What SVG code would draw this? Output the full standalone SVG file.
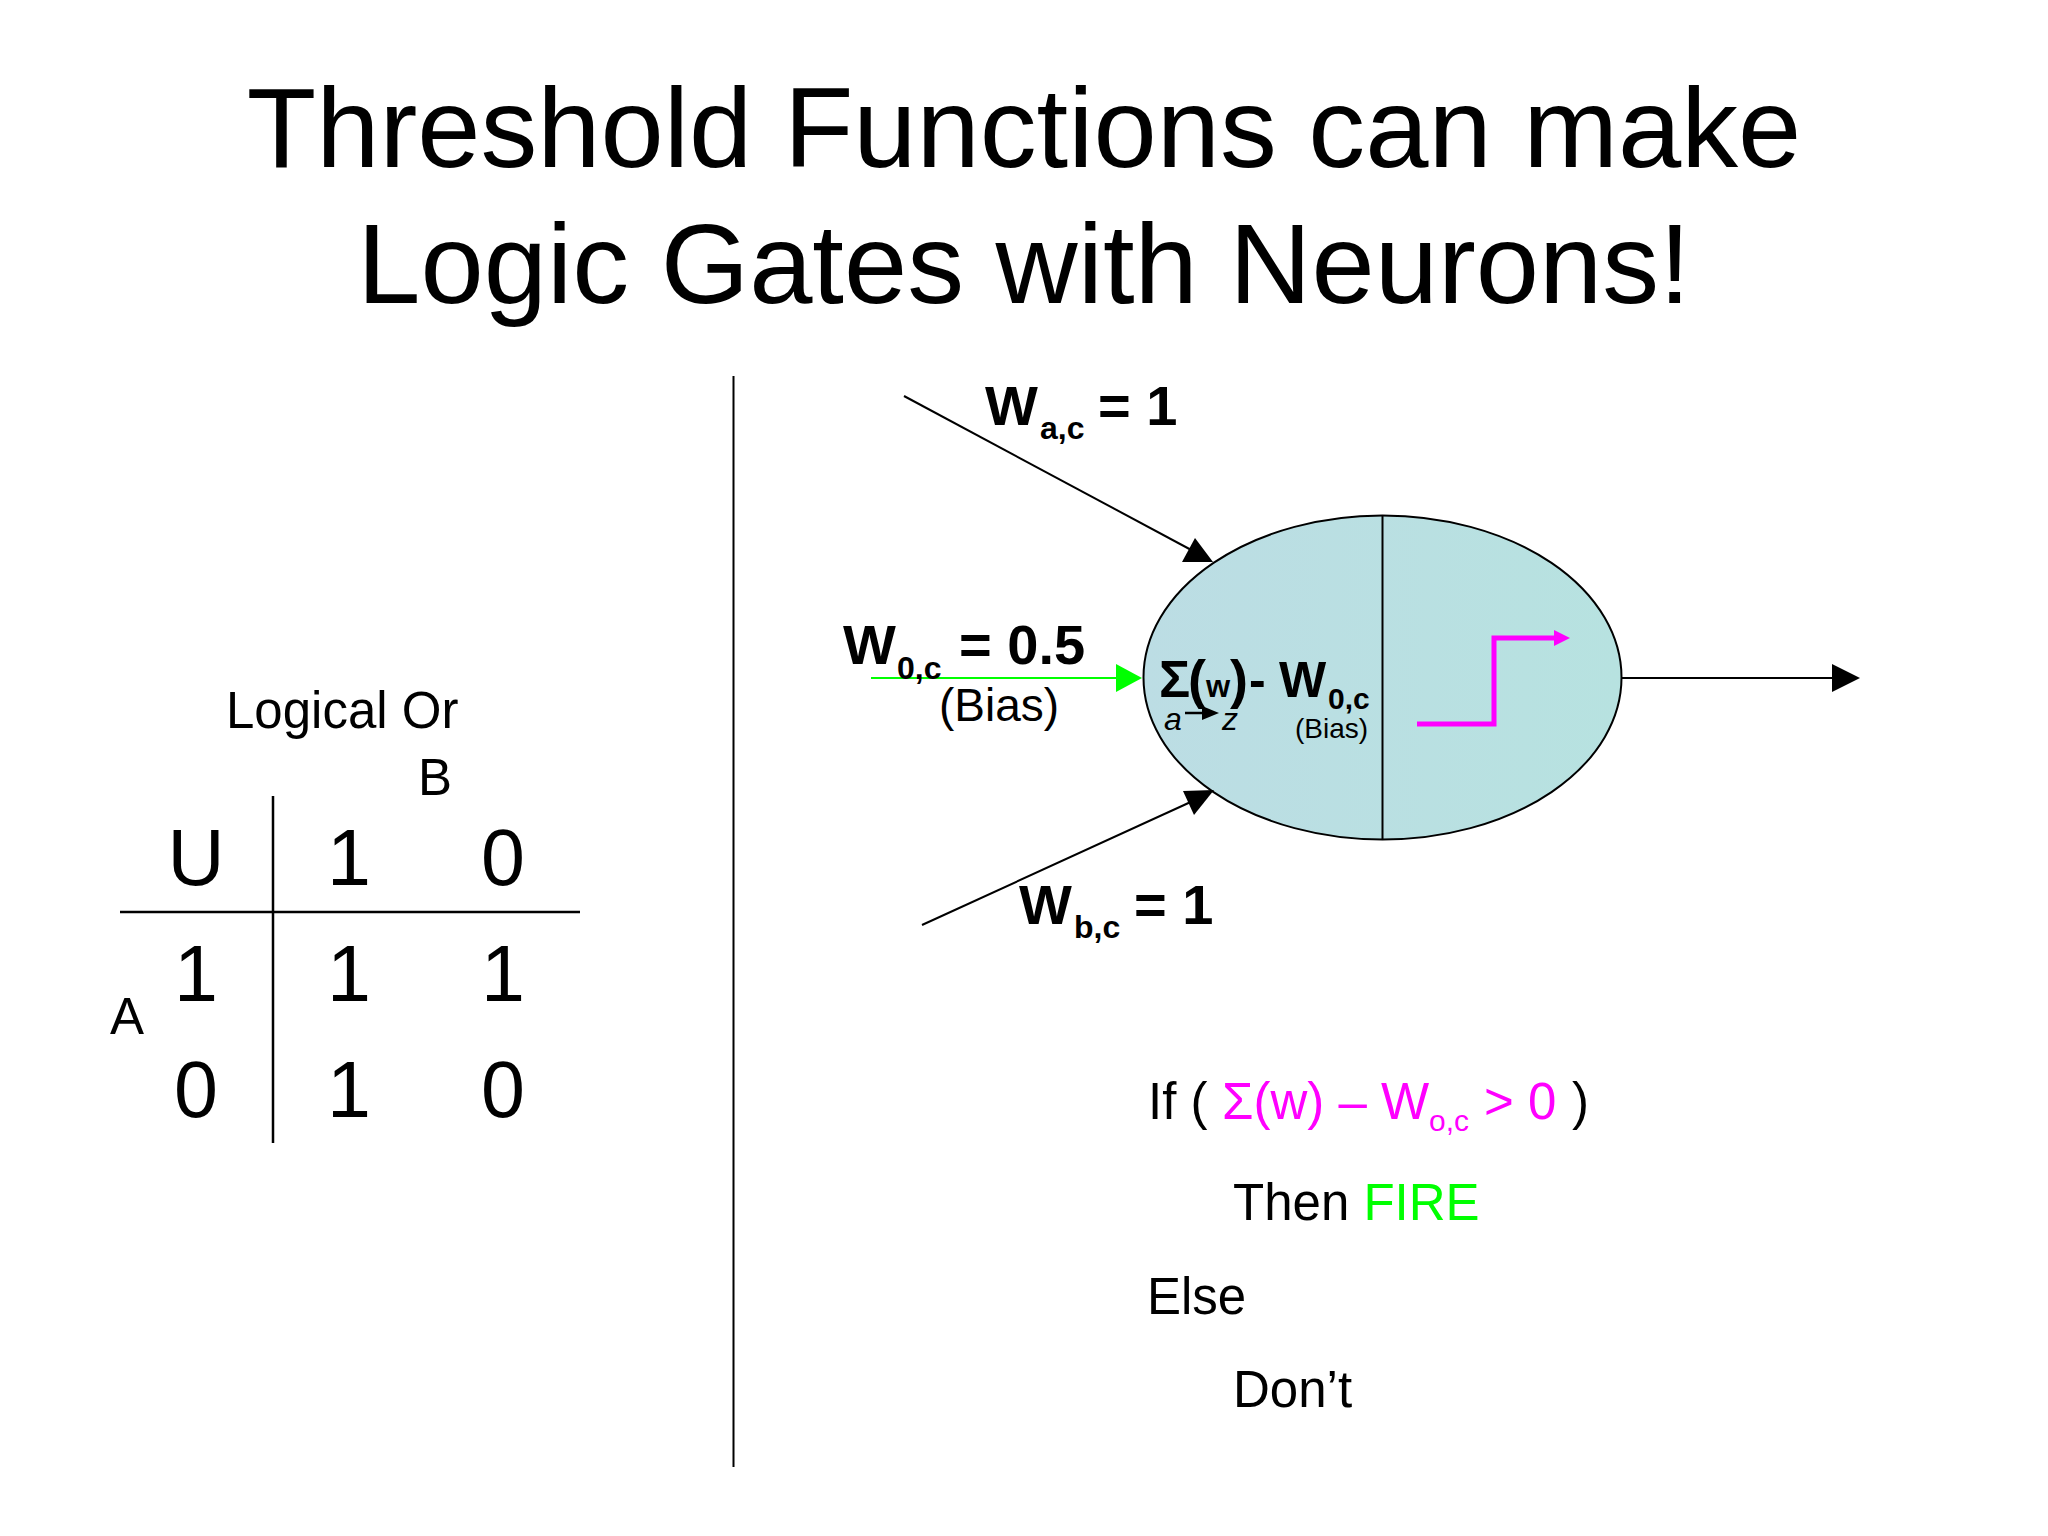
<svg xmlns="http://www.w3.org/2000/svg" width="2048" height="1536" viewBox="0 0 2048 1536">
<style>
text{font-family:"Liberation Sans",Arial,sans-serif;fill:#000}
.title{font-size:113.700px;text-anchor:middle}
.l{font-size:56px;font-weight:bold}
.s{font-size:32px;font-weight:bold}
.t{font-size:51px}
.d{font-size:79px;text-anchor:middle}
.m{fill:#ff00ff}
.g{fill:#00ff00}
.ln{stroke:#000;stroke-width:2;fill:none}
</style>
<defs>
<linearGradient id="nf" x1="0" y1="0" x2="1" y2="0"><stop offset="0" stop-color="#bcdde4"/><stop offset="1" stop-color="#b7e2e0"/></linearGradient>
</defs>
<rect width="2048" height="1536" fill="#fff"/>
<g id="title">
<text class="title" x="1024" y="167">Threshold Functions can make</text>
<text class="title" x="1024" y="303">Logic Gates with Neurons!</text>
</g>
<g id="divider"><line class="ln" x1="733.500" y1="376" x2="733.500" y2="1467"/></g>
<g id="truth-table">
<text class="t" x="226" y="728">Logical Or</text>
<text class="t" x="418" y="795">B</text>
<text class="t" x="110" y="1034">A</text>
<line class="ln" x1="273" y1="796" x2="273" y2="1143" style="stroke-width:2.500"/>
<line class="ln" x1="120" y1="912" x2="580" y2="912" style="stroke-width:2.500"/>
<text class="d" x="196" y="885">U</text><text class="d" x="349" y="885">1</text><text class="d" x="503" y="885">0</text>
<text class="d" x="196" y="1001">1</text><text class="d" x="349" y="1001">1</text><text class="d" x="503" y="1001">1</text>
<text class="d" x="196" y="1117">0</text><text class="d" x="349" y="1117">1</text><text class="d" x="503" y="1117">0</text>
</g>
<g id="neuron">
<ellipse cx="1382.500" cy="677.500" rx="239" ry="162" fill="url(#nf)" stroke="#000" stroke-width="2"/>
<line class="ln" x1="1382.500" y1="515.500" x2="1382.500" y2="839.500"/>
<path d="M1417 724H1494V638H1556" fill="none" stroke="#ff00ff" stroke-width="5"/>
<polygon points="1570,638 1554,630 1554,646" fill="#ff00ff"/>
<text x="1159" y="697" style="font-size:52px;font-weight:bold">Σ</text>
<text x="1188" y="698" style="font-size:54px;font-weight:bold">(</text>
<text x="1206" y="697" style="font-size:31px;font-weight:bold">w</text>
<text x="1230" y="698" style="font-size:54px;font-weight:bold">)</text>
<text x="1249" y="697" style="font-size:50px;font-weight:bold">-</text>
<text x="1279" y="697" style="font-size:50px;font-weight:bold">W</text>
<text class="s" x="1328" y="709" style="font-size:30px">0,c</text>
<text x="1164" y="730" style="font-size:32px;font-style:italic">a</text>
<text x="1222" y="730" style="font-size:32px;font-style:italic">z</text>
<line class="ln" x1="1185" y1="713" x2="1206" y2="713" style="stroke-width:2.500"/>
<polygon points="1219,713 1202,706 1202,720" fill="#000"/>
<text x="1295" y="738" style="font-size:28px">(Bias)</text>
</g>
<g id="connectors">
<line class="ln" x1="904" y1="396" x2="1195" y2="552"/>
<polygon points="1213,562 1195,538 1182,562" fill="#000"/>
<line class="ln" x1="922" y1="925" x2="1195" y2="800"/>
<polygon points="1214,790 1183,791 1194,815" fill="#000"/>
<line x1="871" y1="678" x2="1120" y2="678" stroke="#00ff00" stroke-width="2"/>
<polygon points="1142,678 1116,664 1116,692" fill="#00ff00"/>
<line class="ln" x1="1622" y1="678" x2="1835" y2="678"/>
<polygon points="1860,678 1832,664 1832,692" fill="#000"/>
</g>
<g id="label-wac">
<text class="l" x="985" y="425">W</text><text class="s" x="1040" y="439">a,c</text><text class="l" x="1098" y="425">= 1</text>
</g>
<g id="label-w0c">
<text class="l" x="843" y="664">W</text><text class="s" x="897" y="679">0,c</text><text class="l" x="959" y="664">= 0.5</text>
<text x="939" y="721" style="font-size:46px">(Bias)</text>
</g>
<g id="label-wbc">
<text class="l" x="1019" y="924">W</text><text class="s" x="1074" y="938">b,c</text><text class="l" x="1134" y="924">= 1</text>
</g>
<g id="rule">
<text class="t" x="1148" y="1119">If (</text>
<text class="t m" x="1222" y="1119">Σ(w) – W</text>
<text class="m" x="1429" y="1131" style="font-size:30px">o,c</text>
<text class="t m" x="1484" y="1119">&gt; 0</text>
<text class="t" x="1572" y="1119">)</text>
<text class="t" x="1233" y="1220">Then <tspan class="g">FIRE</tspan></text>
<text class="t" x="1147" y="1314">Else</text>
<text class="t" x="1233" y="1407">Don’t</text>
</g>
</svg>
